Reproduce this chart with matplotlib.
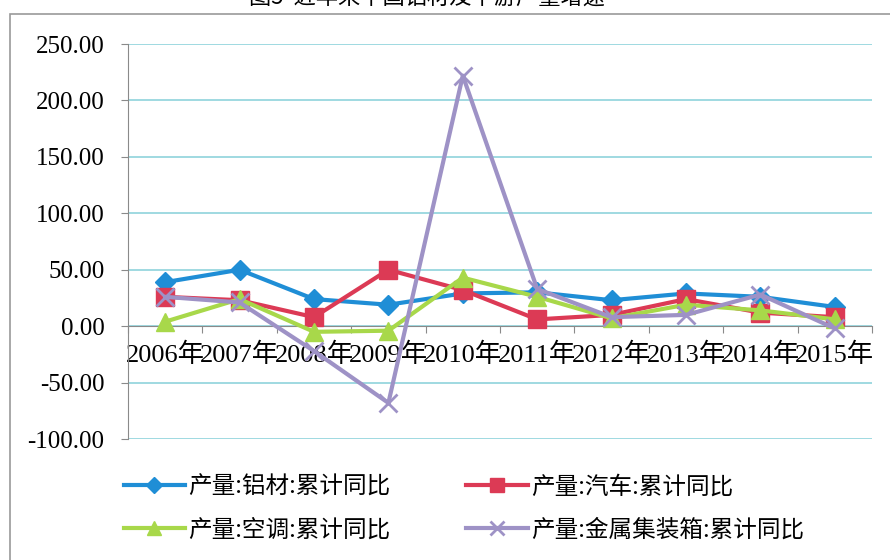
import matplotlib.pyplot as plt
from matplotlib.patches import Rectangle
import numpy as np

# data
years = ['2006年', '2007年', '2008年', '2009年', '2010年',
         '2011年', '2012年', '2013年', '2014年', '2015年']
aluminum = [39, 50, 24, 19, 29, 30, 23, 29, 26, 17]
autos = [26, 23, 8, 50, 32, 6, 10, 24, 12, 8]
aircon = [4, 24, -5, -4, 43, 26, 7, 19, 14, 6]
containers = [26, 21, -22, -68, 222, 33, 8, 10, 28, -2]

series_names = ['产量:铝材:累计同比', '产量:汽车:累计同比',
                '产量:空调:累计同比', '产量:金属集装箱:累计同比']

plt.rcParams['font.family'] = ['Liberation Serif', 'Noto Sans CJK SC']

fig = plt.figure(figsize=(8.9, 5.6), dpi=100)
ax = fig.add_axes([0.1438, 0.216, 0.836, 0.7054])

x = np.arange(len(years))
h1, = ax.plot(x, aluminum, color='#1f8ed6', lw=3, marker='D', ms=10,
              mec='#1f8ed6', zorder=3)
h2, = ax.plot(x, autos, color='#dc3a55', lw=3, marker='s', ms=13,
              mec='#dc3a55', zorder=4)
h3, = ax.plot(x, aircon, color='#a8d84a', lw=3, marker='^', ms=13,
              mec='#a8d84a', zorder=5)
h4, = ax.plot(x, containers, color='#9e92c6', lw=3, marker='x', ms=13,
              mew=2, zorder=6)

ax.set_xlim(-0.5, len(years) - 0.5)
ax.set_ylim(-100, 250)
ax.set_yticks(np.arange(-100, 251, 50))
ax.set_yticklabels(['%.2f' % v for v in np.arange(-100, 251, 50)], fontsize=18)
ax.grid(axis='y', color='#8fd3dc', lw=1.2)
ax.set_axisbelow(True)

for s in ['top', 'right']:
    ax.spines[s].set_visible(False)
ax.spines['left'].set_color('#8a8a8a')
ax.spines['bottom'].set_color('#8a8a8a')
ax.spines['bottom'].set_position(('data', 0))

# ticks at category boundaries, labels at category centres
ax.set_xticks(np.arange(-0.5, len(years), 1))
ax.set_xticklabels([])
ax.set_xticks(x, minor=True)
ax.set_xticklabels(years, minor=True, fontsize=19)
ax.tick_params(axis='x', which='major', direction='out', length=5, color='#8a8a8a')
ax.tick_params(axis='x', which='minor', length=0, pad=12)
ax.tick_params(axis='y', direction='out', length=5, color='#8a8a8a', pad=12)

# excel fills legend rows first, matplotlib columns first
fig.legend([h1, h3, h2, h4], [series_names[0], series_names[2],
                              series_names[1], series_names[3]],
           ncol=2, loc='lower left', bbox_to_anchor=(0.115, -0.005),
           frameon=False, handlelength=2.6, handletextpad=0.15,
           columnspacing=3.2, labelspacing=0.85, markerscale=0.8,
           prop={'family': ['Noto Sans CJK SC'], 'size': 17})

# chart area frame and clipped title
fig.patches.append(Rectangle((10 / 890, -0.1), 1.2, 1 - 14 / 560 + 0.1,
                             transform=fig.transFigure, fill=False,
                             ec='#9a9a9a', lw=1.2))
fig.text(0.48, 1 - 5 / 560, '图5  近年来中国铝材及下游产量增速', ha='center',
         va='baseline', fontsize=16, family=['Noto Sans CJK SC'])

fig.savefig('out.png', dpi=100)
